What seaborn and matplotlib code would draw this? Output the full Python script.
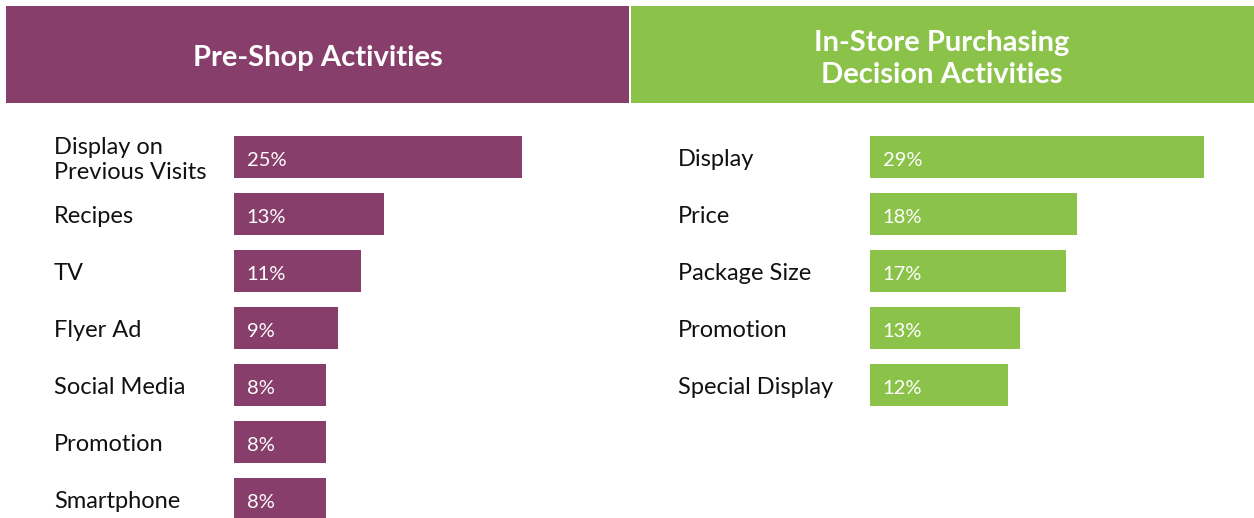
import matplotlib
matplotlib.use("Agg")
import matplotlib.pyplot as plt
import matplotlib.transforms as mtransforms
from matplotlib.patches import Rectangle
import seaborn as sns
import pandas as pd

sns.set_theme(style="white")
plt.rcParams['font.family'] = ['Lato', 'DejaVu Sans']

# ---- data ----
pre_categories = ["Display on\nPrevious Visits", "Recipes", "TV", "Flyer Ad",
                  "Social Media", "Promotion", "Smartphone"]
pre_values = [25, 13, 11, 9, 8, 8, 8]
store_categories = ["Display", "Price", "Package Size", "Promotion", "Special Display"]
store_values = [29, 18, 17, 13, 12]
titles = ["Pre-Shop Activities", "In-Store Purchasing\nDecision Activities"]

PURPLE = "#873E6A"
GREEN = "#8BC34A"

W, H = 1254, 518
fig = plt.figure(figsize=(W / 100, H / 100), dpi=100)
fig.patch.set_facecolor("white")

def fx(px):
    return px / W

def fy(py):
    return 1 - py / H

# header bands
fig.add_artist(Rectangle((fx(6), fy(103)), fx(623), 97 / H, transform=fig.transFigure,
                         facecolor=PURPLE, edgecolor="none"))
fig.add_artist(Rectangle((fx(631), fy(103)), fx(623), 97 / H, transform=fig.transFigure,
                         facecolor=GREEN, edgecolor="none"))
fig.text(fx(318), fy(58), titles[0], color="white", fontsize=21, fontweight="bold",
         ha="center", va="center")
fig.text(fx(942), fy(59), titles[1], color="white", fontsize=21, fontweight="bold",
         ha="center", va="center", linespacing=1.3)

px_per_pct = 11.52
row_pitch = 57
top_row_center = 157
n_rows = 7
ax_top = top_row_center - row_pitch / 2
ax_h = row_pitch * n_rows


def panel(cats, vals, bar_left_px, label_left_px, color):
    ax_w = 360
    ax = fig.add_axes([fx(bar_left_px), fy(ax_top + ax_h), fx(ax_w), ax_h / H])
    df = pd.DataFrame({"cat": cats, "val": vals})
    sns.barplot(data=df, x="val", y="cat", ax=ax, color=color, width=42 / row_pitch,
                saturation=1, orient="h")
    for p in ax.patches:
        p.set_edgecolor("none")
    ax.set_xlim(0, ax_w / px_per_pct)
    ax.set_ylim(n_rows - 0.5, -0.5)
    ax.axis("off")
    trans = mtransforms.blended_transform_factory(fig.transFigure, ax.transData)
    for i, (c, v) in enumerate(zip(cats, vals)):
        ax.annotate(c, xy=(fx(label_left_px), i), xycoords=trans, xytext=(0, -2),
                    textcoords="offset points", ha="left", va="center",
                    fontsize=17, color="#111111", linespacing=1.25, annotation_clip=False)
        ax.annotate(f"{v}%", xy=(0, i), xytext=(9, -2.5), textcoords="offset points",
                    ha="left", va="center", color="white", fontsize=14.5)
    return ax


panel(pre_categories, pre_values, 234, 54, PURPLE)
panel(store_categories, store_values, 870, 678, GREEN)

fig.savefig("out.png", dpi=100, facecolor="white")
